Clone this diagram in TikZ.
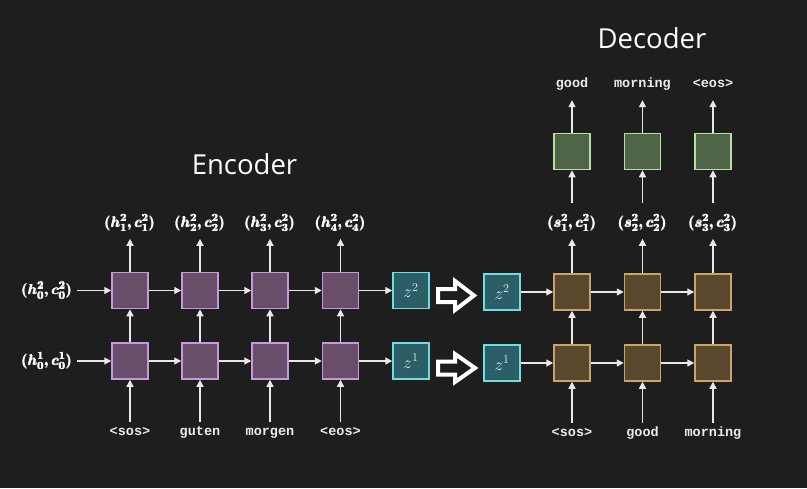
\documentclass[tikz,border=0pt]{standalone}
\usepackage{amsmath}
\usepackage{fontspec}
\setmainfont{Open Sans}
\setmonofont{Liberation Mono}
\usetikzlibrary{arrows.meta}
\definecolor{bg}{RGB}{30,30,30}
\definecolor{encfill}{RGB}{104,78,104}
\definecolor{encline}{RGB}{200,152,222}
\definecolor{zfill}{RGB}{44,94,104}
\definecolor{zline}{RGB}{110,222,222}
\definecolor{decfill}{RGB}{90,72,46}
\definecolor{decline}{RGB}{204,164,104}
\definecolor{outfill}{RGB}{80,100,72}
\definecolor{outline}{RGB}{184,222,164}
\definecolor{arrowc}{RGB}{232,232,232}
\definecolor{wordc}{RGB}{235,235,235}
\tikzset{
  cell/.style={minimum size=36pt, inner sep=0pt, line width=1.5pt, draw},
  enccell/.style={cell, fill=encfill, draw=encline},
  zcell/.style={cell, fill=zfill, draw=zline, text=white!85!gray,
    font=\fontsize{17}{20}\selectfont},
  deccell/.style={cell, fill=decfill, draw=decline},
  outcell/.style={cell, fill=outfill, draw=outline},
  arr/.style={-{Triangle[length=7pt,width=7pt]}, line width=1.4pt, draw=arrowc},
  mathlbl/.style={text=white, inner sep=1pt, font=\fontsize{15}{18}\selectfont},
  word/.style={text=wordc, inner sep=1pt, font=\ttfamily\bfseries\fontsize{13.5}{16}\selectfont,
    text height=9pt, text depth=3pt, anchor=base},
  title/.style={text=white, font=\fontsize{27.5}{32}\selectfont},
  hollow/.style={draw=white, line width=4pt, line join=miter}
}
\newcommand{\bml}[1]{{\boldmath$\pmb{#1}$}}
\begin{document}
\begin{tikzpicture}[x=1pt,y=-1pt]
\fill[bg] (0,0) rectangle (807,488);
\useasboundingbox (0,0) rectangle (807,488);

% titles
\node[title] (enctitle) at (244.5,164) {Encoder};
\node[title] (dectitle) at (652,38) {Decoder};

% encoder cells
\foreach \i/\x in {1/130,2/200,3/270,4/340.5} {
  \node[enccell] (t\i) at (\x,290.5) {};
  \node[enccell] (b\i) at (\x,361) {};
}
\node[zcell] (ez2) at (411,290.5) {$z^2$};
\node[zcell] (ez1) at (411,361) {$z^1$};

% encoder left labels
\node[mathlbl] (l2) at (47,290.5) {\bml{(h^2_0,c^2_0)}};
\node[mathlbl] (l1) at (47,361) {\bml{(h^1_0,c^1_0)}};

% encoder top labels
\node[mathlbl] (h1) at (130,223) {\bml{(h^2_1,c^2_1)}};
\node[mathlbl] (h2) at (200,223) {\bml{(h^2_2,c^2_2)}};
\node[mathlbl] (h3) at (270,223) {\bml{(h^2_3,c^2_3)}};
\node[mathlbl] (h4) at (340.5,223) {\bml{(h^2_4,c^2_4)}};

% encoder bottom words
\node[word] (w1) at (130,435) {<sos>};
\node[word] (w2) at (200,435) {guten};
\node[word] (w3) at (270,435) {morgen};
\node[word] (w4) at (340.5,435) {<eos>};

% encoder arrows
\draw[arr, shorten <=4pt] (l2) -- (t1);
\draw[arr, shorten <=4pt] (l1) -- (b1);
\foreach \a/\b in {1/2,2/3,3/4} {
  \draw[arr] (t\a) -- (t\b);
  \draw[arr] (b\a) -- (b\b);
}
\draw[arr] (t4) -- (ez2);
\draw[arr] (b4) -- (ez1);
\foreach \i in {1,2,3,4} {
  \draw[arr] (b\i) -- (t\i);
  \draw[arr, shorten <=3pt] (w\i.north) -- (b\i.south);
  \draw[arr, shorten >=6pt] (t\i.north) -- (h\i.south);
}

% hollow transfer arrows
\draw[hollow] (438,289) -- (455,289) -- (455,281) -- (474,295.5) -- (455,310) -- (455,302) -- (438,302) -- cycle;
\draw[hollow] (438,361.5) -- (455,361.5) -- (455,354) -- (475,368) -- (455,382) -- (455,374.5) -- (438,374.5) -- cycle;

% decoder
\node[zcell] (dz2) at (502,292) {$z^2$};
\node[zcell] (dz1) at (502,363) {$z^1$};
\foreach \i/\x in {1/572,2/642.5,3/713} {
  \node[deccell] (dt\i) at (\x,292) {};
  \node[deccell] (db\i) at (\x,363) {};
  \node[outcell] (o\i) at (\x,151.5) {};
}
\node[mathlbl] (s1) at (572,223) {\bml{(s^2_1,c^2_1)}};
\node[mathlbl] (s2) at (642.5,223) {\bml{(s^2_2,c^2_2)}};
\node[mathlbl] (s3) at (713,223) {\bml{(s^2_3,c^2_3)}};

\node[word] (dw1) at (572,436) {<sos>};
\node[word] (dw2) at (642.5,436) {good};
\node[word] (dw3) at (713,436) {morning};

\node[word] (y1) at (572,87) {good};
\node[word] (y2) at (642.5,87) {morning};
\node[word] (y3) at (713,87) {<eos>};

\draw[arr] (dz2) -- (dt1);
\draw[arr] (dz1) -- (db1);
\foreach \a/\b in {1/2,2/3} {
  \draw[arr] (dt\a) -- (dt\b);
  \draw[arr] (db\a) -- (db\b);
}
\foreach \i in {1,2,3} {
  \draw[arr] (db\i) -- (dt\i);
  \draw[arr, shorten <=3pt] (dw\i.north) -- (db\i.south);
  \draw[arr, shorten >=6pt] (dt\i.north) -- (s\i.south);
  \draw[arr, shorten <=10pt] (s\i.north) -- (o\i.south);
  \draw[arr, shorten >=9pt] (o\i.north) -- (y\i.south);
}
\end{tikzpicture}
\end{document}
